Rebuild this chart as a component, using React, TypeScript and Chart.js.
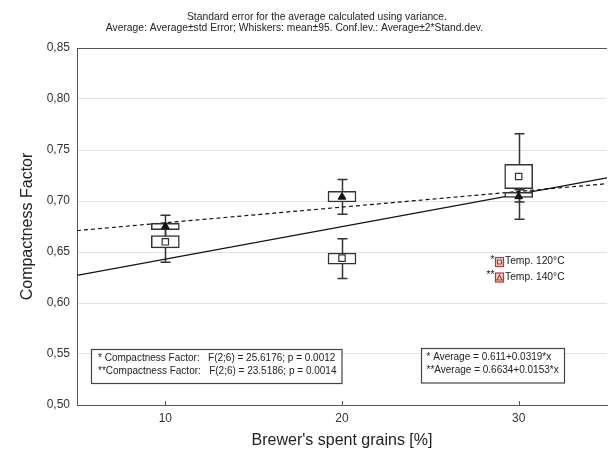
import { useEffect, useRef } from 'react';
import { Chart, registerables } from 'chart.js';

Chart.register(...registerables);

const FONT = '"Liberation Sans", Arial, sans-serif';

const categories = [10, 20, 30];
const xTickValues = [10, 20, 30];
const yTickValues = [0.5, 0.55, 0.6, 0.65, 0.7, 0.75, 0.8, 0.85];

// Temp. 120°C (square marker)
const t120Mean = [0.66, 0.644, 0.724];
const t120BoxLow = [0.654, 0.638, 0.712];
const t120BoxHigh = [0.666, 0.649, 0.736];
const t120WhiskLow = [0.64, 0.624, 0.682];
const t120WhiskHigh = [0.676, 0.663, 0.766];

// Temp. 140°C (triangle marker)
const t140Mean = [0.675, 0.704, 0.7045];
const t140BoxLow = [0.672, 0.699, 0.7035];
const t140BoxHigh = [0.678, 0.7095, 0.7085];
const t140WhiskLow = [0.664, 0.687, 0.699];
const t140WhiskHigh = [0.686, 0.721, 0.711];

// Regression line end points
const fitX = [5, 35];
const fit120 = [0.627, 0.7227];
const fit140 = [0.671, 0.717];

const titleLines = [
  'Standard error for the average calculated using variance.',
  'Average: Average±std Error; Whiskers: mean±95. Conf.lev.: Average±2*Stand.dev.',
];
const legendLabels = ['Temp. 120°C', 'Temp. 140°C'];
const legendPrefixes = ['*', '**'];
const statsLines = [
  '* Compactness Factor:   F(2;6) = 25.6176; p = 0.0012',
  '**Compactness Factor:   F(2;6) = 23.5186; p = 0.0014',
];
const eqLines = ['* Average = 0.611+0.0319*x', '**Average = 0.6634+0.0153*x'];
const xTitle = "Brewer's spent grains [%]";
const yTitle = 'Compactness Factor';

const overlay = {
  id: 'overlay',
  beforeDatasetsDraw(chart: any) {
    const ctx = chart.ctx;
    const xs = chart.scales.x;
    const ys = chart.scales.y;
    ctx.save();
    ctx.strokeStyle = '#333';
    ctx.lineWidth = 1.5;
    const draw = (lo: number[], hi: number[]) => {
      categories.forEach((c, i) => {
        const px = Math.round(xs.getPixelForValue(c)) + 0.5;
        const yl = ys.getPixelForValue(lo[i]);
        const yh = ys.getPixelForValue(hi[i]);
        ctx.beginPath();
        ctx.moveTo(px, yl);
        ctx.lineTo(px, yh);
        ctx.moveTo(px - 5, yl);
        ctx.lineTo(px + 5, yl);
        ctx.moveTo(px - 5, yh);
        ctx.lineTo(px + 5, yh);
        ctx.stroke();
      });
    };
    draw(t120WhiskLow, t120WhiskHigh);
    draw(t140WhiskLow, t140WhiskHigh);
    ctx.restore();
  },
  afterDraw(chart: any) {
    const ctx = chart.ctx;
    const area = chart.chartArea;
    const xs = chart.scales.x;
    ctx.save();
    // top frame line
    ctx.strokeStyle = '#555';
    ctx.lineWidth = 1;
    ctx.beginPath();
    ctx.moveTo(area.left, Math.round(area.top) + 0.5);
    ctx.lineTo(area.right, Math.round(area.top) + 0.5);
    ctx.stroke();
    // inward x ticks
    ctx.beginPath();
    xTickValues.forEach((v) => {
      const px = Math.round(xs.getPixelForValue(v)) + 0.5;
      ctx.moveTo(px, area.bottom);
      ctx.lineTo(px, area.bottom - 4);
    });
    ctx.stroke();

    ctx.fillStyle = '#222';
    // titles
    ctx.font = `10.3px ${FONT}`;
    ctx.textBaseline = 'alphabetic';
    ctx.textAlign = 'left';
    ctx.fillText(titleLines[0], 187, 19.5);
    ctx.textAlign = 'right';
    ctx.fillText(titleLines[1], 483, 30.5);

    // axis titles
    ctx.font = `16px ${FONT}`;
    ctx.textAlign = 'center';
    ctx.textBaseline = 'middle';
    ctx.fillText(xTitle, (area.left + area.right) / 2, 441);
    ctx.save();
    ctx.translate(28, (area.top + area.bottom) / 2);
    ctx.rotate(-Math.PI / 2);
    ctx.fillText(yTitle, 0, 0);
    ctx.restore();

    // legend
    ctx.font = `10.3px ${FONT}`;
    const legY = [261.5, 277];
    legendLabels.forEach((lab, i) => {
      const y = legY[i];
      ctx.fillStyle = '#222';
      ctx.textAlign = 'right';
      ctx.textBaseline = 'middle';
      ctx.fillText(legendPrefixes[i], 494.5, y - 1.5);
      ctx.textAlign = 'left';
      ctx.fillText(lab, 505, y);
      // icon
      ctx.strokeStyle = '#b03a36';
      ctx.fillStyle = '#f2d6d3';
      ctx.lineWidth = 1.2;
      ctx.fillRect(495.5, y - 4, 8, 9);
      ctx.strokeRect(495.5, y - 4, 8, 9);
      ctx.beginPath();
      if (i === 0) {
        ctx.rect(497.5, y - 1.5, 4, 4);
      } else {
        ctx.moveTo(499.5, y - 2);
        ctx.lineTo(502, y + 3);
        ctx.lineTo(497, y + 3);
        ctx.closePath();
      }
      ctx.stroke();
    });

    // annotation boxes
    ctx.strokeStyle = '#444';
    ctx.lineWidth = 1.2;
    ctx.fillStyle = '#ffffff';
    ctx.fillRect(91.5, 349.5, 250.5, 34);
    ctx.strokeRect(91.5, 349.5, 250.5, 34);
    ctx.fillRect(421.5, 348.5, 143, 34.5);
    ctx.strokeRect(421.5, 348.5, 143, 34.5);
    ctx.fillStyle = '#222';
    ctx.font = `10px ${FONT}`;
    ctx.textAlign = 'left';
    ctx.textBaseline = 'middle';
    const lineY = [358, 371];
    statsLines.forEach((t, i) => ctx.fillText(t, 98, lineY[i]));
    eqLines.forEach((t, i) => ctx.fillText(t, 426.5, lineY[i] - 0.5));
    ctx.restore();
  },
};

export default function App() {
  const ref = useRef<HTMLCanvasElement | null>(null);
  useEffect(() => {
    if (!ref.current) return;
    const boxData = (lo: number[], hi: number[]) =>
      categories.map((c, i) => ({ x: c, y: [lo[i], hi[i]] }));
    const meanData = (m: number[]) => categories.map((c, i) => ({ x: c, y: m[i] }));
    const lineData = (vals: number[]) => fitX.map((x, i) => ({ x, y: vals[i] }));
    const chart = new Chart(ref.current, {
      type: 'bar',
      data: {
        datasets: [
          {
            type: 'line',
            data: lineData(fit120) as any,
            borderColor: '#111',
            borderWidth: 1.2,
            pointRadius: 0,
            order: 3,
          } as any,
          {
            type: 'line',
            data: lineData(fit140) as any,
            borderColor: '#111',
            borderWidth: 1.2,
            borderDash: [4, 3],
            pointRadius: 0,
            order: 3,
          } as any,
          {
            type: 'bar',
            data: boxData(t120BoxLow, t120BoxHigh) as any,
            backgroundColor: '#ffffff',
            borderColor: '#333',
            borderWidth: 1.5,
            borderSkipped: false,
            barThickness: 28,
            grouped: false,
            order: 2,
          } as any,
          {
            type: 'bar',
            data: boxData(t140BoxLow, t140BoxHigh) as any,
            backgroundColor: '#ffffff',
            borderColor: '#333',
            borderWidth: 1.5,
            borderSkipped: false,
            barThickness: 28,
            grouped: false,
            order: 2,
          } as any,
          {
            type: 'line',
            data: meanData(t120Mean) as any,
            showLine: false,
            pointStyle: 'rect',
            pointRadius: 4.5,
            pointBackgroundColor: '#ffffff',
            pointBorderColor: '#333',
            pointBorderWidth: 1.2,
            order: 1,
          } as any,
          {
            type: 'line',
            data: meanData(t140Mean) as any,
            showLine: false,
            pointStyle: 'triangle',
            pointRadius: 4.5,
            pointBackgroundColor: '#111',
            pointBorderColor: '#111',
            pointBorderWidth: 1,
            order: 1,
          } as any,
        ],
      },
      options: {
        animation: false,
        responsive: false,
        layout: { autoPadding: false, padding: { top: 48, right: 2, left: 0, bottom: 0 } },
        plugins: { legend: { display: false }, tooltip: { enabled: false }, title: { display: false } },
        scales: {
          x: {
            type: 'linear',
            min: 5,
            max: 35,
            offset: false,
            afterBuildTicks: (s: any) => {
              s.ticks = xTickValues.map((v) => ({ value: v }));
            },
            afterFit: (s: any) => {
              s.height = 45;
            },
            grid: { display: false, drawTicks: false, offset: false },
            border: { display: true, color: '#555', width: 1 },
            ticks: {
              padding: 6,
              color: '#333',
              font: { family: FONT, size: 12 },
              callback: (v: any) => String(v),
            },
          },
          y: {
            type: 'linear',
            min: 0.5,
            max: 0.85,
            afterBuildTicks: (s: any) => {
              s.ticks = yTickValues.map((v) => ({ value: v }));
            },
            afterFit: (s: any) => {
              s.width = 77;
            },
            grid: { color: '#e2e2e2', lineWidth: 1, drawTicks: false },
            border: { display: true, color: '#555', width: 1 },
            ticks: {
              padding: 7,
              color: '#333',
              font: { family: FONT, size: 12 },
              callback: (v: any) => Number(v).toFixed(2).replace('.', ','),
            },
          },
        },
      } as any,
      plugins: [overlay],
    });
    return () => chart.destroy();
  }, []);
  return (
    <div style={{ position: 'absolute', left: 0, top: 0, width: 609, height: 450, background: '#fff' }}>
      <canvas ref={ref} width={609} height={450} style={{ display: 'block' }} />
    </div>
  );
}
